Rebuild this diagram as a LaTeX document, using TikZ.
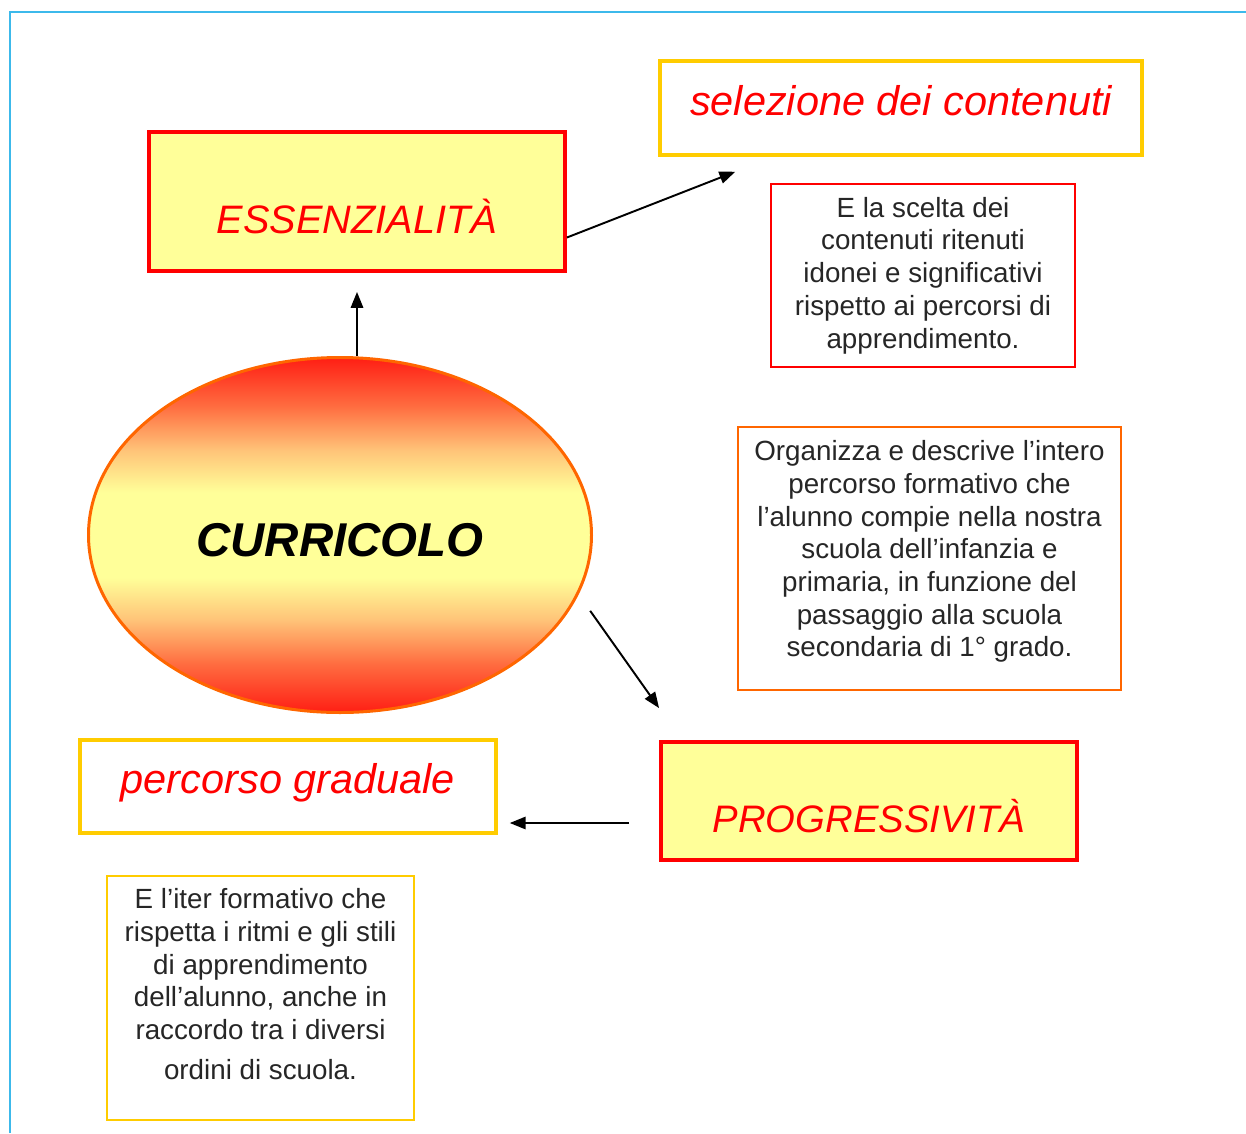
\documentclass[tikz,border=0pt]{standalone}
\usepackage{fontspec}
\setmainfont{Liberation Sans}
\usetikzlibrary{shapes.geometric,arrows.meta}

\definecolor{giallino}{RGB}{255,255,153}
\definecolor{oro}{RGB}{255,204,0}
\definecolor{arancio}{RGB}{255,102,0}
\definecolor{rosso}{RGB}{255,0,0}
\definecolor{rossoacceso}{RGB}{255,30,20}
\definecolor{pesca}{RGB}{255,110,65}
\definecolor{albicocca}{RGB}{255,195,120}
\definecolor{cornice}{RGB}{60,185,235}

% sfumatura dell'ovale: rosso ai bordi, giallo al centro
\pgfdeclareverticalshading{curricolo}{100bp}{color(0bp)=(rossoacceso); color(25bp)=(rossoacceso);
  color(32bp)=(pesca); color(38bp)=(albicocca); color(44bp)=(giallino); color(56bp)=(giallino);
  color(62bp)=(albicocca); color(68bp)=(pesca); color(75bp)=(rossoacceso); color(100bp)=(rossoacceso)}

\tikzset{
  titolo/.style={draw=rosso, line width=2.2pt, fill=giallino, text=rosso, inner sep=0pt,
    minimum width=8.32cm, text height=36pt, text depth=0pt},
  voce/.style={draw=oro, line width=2pt, fill=white, text=rosso, inner sep=0pt,
    minimum width=8.32cm, text height=17pt, text depth=9pt,
    font=\fontsize{23.6}{28}\selectfont\itshape},
  nota/.style={draw, line width=1.2pt, inner sep=0pt, align=center, text=black!85,
    font=\fontsize{15.8}{18.6}\selectfont},
  freccia/.style={-{Triangle[length=9pt,width=7pt]}, line width=1.1pt},
}

\begin{document}
\begin{tikzpicture}
    \useasboundingbox (0,0) rectangle (24.92,-22.66);

    % cornice azzurra
    \draw[cornice, line width=1.2pt] (0.2,-22.66) -- (0.2,-0.24) -- (24.92,-0.24);

    % ovale centrale
    \node[ellipse, draw=arancio, line width=1.7pt, shade, shading=curricolo,
      minimum width=10.06cm, minimum height=7.1cm, text height=25pt,
      font=\fontsize{27}{32}\selectfont\bfseries\itshape] (curr) at (6.8,-10.7) {CURRICOLO};

    % riquadri dei titoli
    \node[titolo, minimum height=2.78cm, font=\fontsize{22.6}{27}\selectfont\itshape]
      (ess) at (7.14,-4.03) {ESSENZIALITÀ};
    \node[titolo, minimum height=2.36cm, font=\fontsize{21.8}{26}\selectfont\itshape]
      (prog) at (17.38,-16.02) {PROGRESSIVITÀ};

    \node[voce, minimum width=9.64cm, minimum height=1.88cm] (sel) at (18.02,-2.16) {selezione dei contenuti};
    \node[voce, minimum height=1.86cm] (perc) at (5.76,-15.73) {percorso graduale};

    % descrizioni
    \node[nota, draw=rosso, minimum width=6.08cm, minimum height=3.66cm] (scelta) at (18.46,-5.51)
      {E la scelta dei\\contenuti ritenuti\\idonei e significativi\\rispetto ai percorsi di\\apprendimento.};
    \node[nota, draw=arancio, minimum width=7.66cm, minimum height=5.26cm, text depth=11pt] (org) at (18.59,-11.17)
      {Organizza e descrive l'intero\\percorso formativo che\\l'alunno compie nella nostra\\scuola dell'infanzia e\\primaria, in funzione del\\passaggio alla scuola\\secondaria di 1° grado.};
    \node[nota, draw=oro, minimum width=6.14cm, minimum height=4.88cm, text depth=16pt] (iter) at (5.21,-19.96)
      {E l'iter formativo che\\rispetta i ritmi e gli stili\\di apprendimento\\dell'alunno, anche in\\raccordo tra i diversi\\[4pt]ordini di scuola.};

    % frecce
    \draw[freccia, shorten >=0.38cm] (curr.north -| ess.south) -- (ess.south);
    \draw[freccia] ([yshift=-0.72cm]ess.east) -- ([xshift=1.54cm,yshift=-0.3cm]sel.south west);
    \draw[freccia, shorten <=0.4cm] (curr.-14) -- ([yshift=0.64cm]prog.north west);
    \draw[freccia, shorten <=0.6cm, shorten >=0.24cm] ([yshift=-0.44cm]prog.west) -- ([yshift=-0.44cm]prog.west -| perc.east);
\end{tikzpicture}
\end{document}
